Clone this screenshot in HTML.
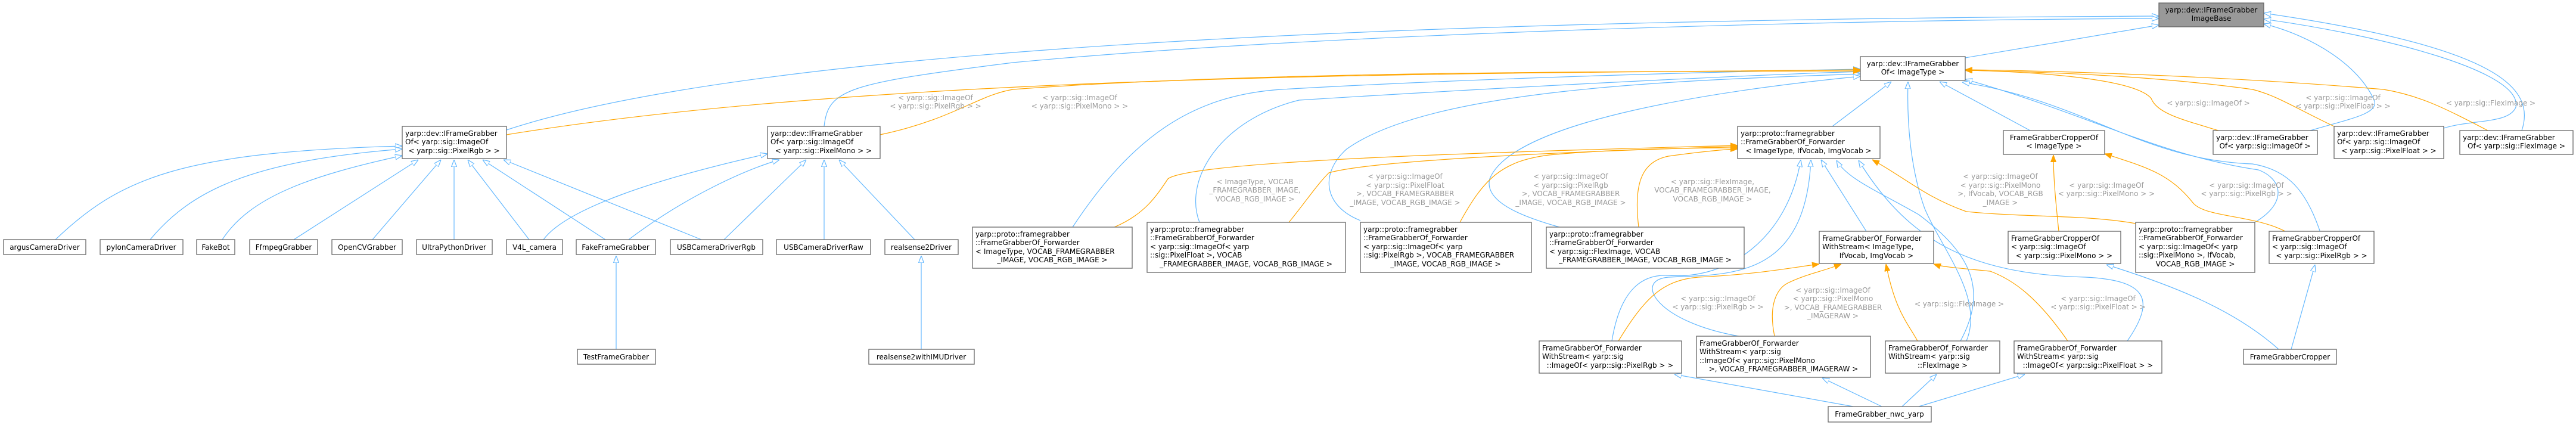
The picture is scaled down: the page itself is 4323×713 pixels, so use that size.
<!DOCTYPE html>
<html><head><meta charset="utf-8"><style>
html,body{margin:0;padding:0;background:#fff;width:4323px;height:713px;overflow:hidden}
svg{display:block}
text{font-family:"DejaVu Sans","Liberation Sans",sans-serif;font-size:12px;fill:#000}
.l text{fill:#9a9a9a}
.b{fill:none;stroke:#63b8ff;stroke-width:1.2}
.o{fill:none;stroke:#ffa500;stroke-width:1.2}
rect{fill:#fff;stroke:#666;stroke-width:1.3}
</style></head><body>
<svg width="4323" height="713" viewBox="0 0 4323 713" xmlns="http://www.w3.org/2000/svg">
<defs>
<marker id="mb" viewBox="0 0 12 10" refX="12" refY="5" markerWidth="12" markerHeight="10" markerUnits="userSpaceOnUse" orient="auto"><path d="M0,0.5 L12,5 L0,9.5 z" fill="#fff" stroke="#63b8ff" stroke-width="1.2"/></marker>
<marker id="mo" viewBox="0 0 12 10" refX="12" refY="5" markerWidth="12" markerHeight="10" markerUnits="userSpaceOnUse" orient="auto"><path d="M0,0.5 L12,5 L0,9.5 z" fill="#ffa500" stroke="#ffa500"/></marker>
</defs>

<!-- blue edges -->
<g class="b" marker-end="url(#mb)">
<path d="M850,218 C1300,70 2500,32 3623,27"/>
<path d="M1383,212 C1390,150 1420,140 1700,105 C2200,58 3000,34 3623,31"/>
<path d="M3298,97 C3450,72 3540,56 3623,42"/>
<path d="M3877,219 C3940,200 3990,192 3985,170 C3960,110 3880,60 3799,40"/>
<path d="M4101,215 C4150,200 4210,208 4222,180 C4235,120 4000,60 3799,32"/>
<path d="M4232,219 C4255,150 4200,80 3799,22"/>
<path d="M1800,381 C1900,230 2000,160 2150,150 C2500,130 2900,120 3122,116"/>
<path d="M2013,373 C1985,300 2050,200 2180,168 C2500,148 2900,127 3122,120"/>
<path d="M2283,370 C2220,345 2215,290 2260,250 C2400,150 2800,135 3122,124"/>
<path d="M2617,381 C2560,365 2490,340 2500,300 C2540,200 2900,150 3122,128"/>
<path d="M3075,212 L3174,137"/>
<path d="M3300,572 C3330,500 3260,420 3230,350 C3205,280 3200,200 3202,137"/>
<path d="M3407,219 L3255,137"/>
<path d="M3784,373 C3840,340 3830,300 3790,285 C3620,260 3500,190 3298,133"/>
<path d="M3893,387 C3870,320 3840,285 3780,275 C3592,268 3500,170 3293,138"/>
<path d="M2705,572 C2720,480 2760,460 2800,462 C2900,470 3000,400 3022,268"/>
<path d="M2918,564 C2780,540 2740,470 2800,465 C2900,460 3030,470 3039,268"/>
<path d="M3132,388 L3056,268"/>
<path d="M3290,572 C3340,480 3300,420 3220,360 C3150,320 3100,300 3082,269"/>
<path d="M3570,572 C3620,500 3600,470 3500,465 C3300,460 3200,400 3119,269"/>
<path d="M3110,682 L2810,628"/>
<path d="M3158,682 L3058,634"/>
<path d="M3192,682 L3250,628"/>
<path d="M3220,682 L3398,628"/>
<path d="M3824,586 C3750,520 3650,480 3535,444"/>
<path d="M3845,586 L3885,444"/>
<path d="M1034,586 L1034,429"/>
<path d="M1546,586 L1546,429"/>
<path d="M93,402 C200,300 300,255 675,245"/>
<path d="M252,402 C320,320 420,270 675,250"/>
<path d="M373,402 C420,330 520,295 675,261"/>
<path d="M493,402 L702,268"/>
<path d="M625,402 L740,268"/>
<path d="M762,402 L762,268"/>
<path d="M888,402 L785,268"/>
<path d="M1016,402 L810,268"/>
<path d="M1177,402 L845,268"/>
<path d="M912,402 C950,350 1100,300 1288,258"/>
<path d="M1055,402 C1150,330 1250,285 1308,268"/>
<path d="M1215,402 L1353,268"/>
<path d="M1383,402 L1383,268"/>
<path d="M1535,402 L1408,268"/>
</g>

<!-- orange edges -->
<g class="o" marker-end="url(#mo)">
<path d="M850,226 C1500,120 2500,124 3122,117"/>
<path d="M1477,226 C1600,200 1640,160 1700,150 C2100,120 2700,120 3122,119"/>
<path d="M3723,219 C3660,200 3620,190 3610,165 C3580,130 3400,120 3298,118"/>
<path d="M3917,212 C3850,180 3820,160 3780,150 C3600,125 3400,120 3298,118"/>
<path d="M4175,219 C4100,180 4060,160 4000,150 C3700,125 3400,118 3298,117"/>
<path d="M1870,381 C1920,360 1940,330 1960,300 C2000,270 2500,255 2916,244"/>
<path d="M2163,373 C2190,340 2210,310 2230,290 C2300,270 2600,255 2916,246"/>
<path d="M2450,373 C2490,300 2520,270 2600,260 C2700,250 2850,248 2916,248"/>
<path d="M2750,381 C2740,300 2760,270 2800,262 C2850,255 2900,250 2916,250"/>
<path d="M3584,375 C3500,360 3400,365 3300,355 C3230,330 3200,300 3142,268"/>
<path d="M2716,572 C2760,500 2790,470 2850,465 C2950,460 3000,450 3053,443"/>
<path d="M2978,564 C2965,500 2990,480 3000,475 C3030,460 3060,455 3090,443"/>
<path d="M3218,572 C3200,540 3180,520 3165,443"/>
<path d="M3470,572 C3420,500 3380,470 3340,455 C3290,450 3260,448 3245,443"/>
<path d="M3455,388 C3450,340 3446,300 3446,260"/>
<path d="M3835,388 C3780,360 3700,365 3680,340 C3640,290 3600,280 3532,258"/>
</g>

<!-- edge labels -->
<g class="l" text-anchor="middle">
<text x="1570" y="168">&lt; yarp::sig::ImageOf</text><text x="1570" y="182">&lt; yarp::sig::PixelRgb &gt; &gt;</text>
<text x="1812" y="168">&lt; yarp::sig::ImageOf</text><text x="1812" y="182">&lt; yarp::sig::PixelMono &gt; &gt;</text>
<text x="2106" y="309">&lt; ImageType, VOCAB</text><text x="2106" y="323">_FRAMEGRABBER_IMAGE,</text><text x="2106" y="338">VOCAB_RGB_IMAGE &gt;</text>
<text x="2358" y="300">&lt; yarp::sig::ImageOf</text><text x="2358" y="315">&lt; yarp::sig::PixelFloat</text><text x="2358" y="329">&gt;, VOCAB_FRAMEGRABBER</text><text x="2358" y="344">_IMAGE, VOCAB_RGB_IMAGE &gt;</text>
<text x="2636" y="300">&lt; yarp::sig::ImageOf</text><text x="2636" y="315">&lt; yarp::sig::PixelRgb</text><text x="2636" y="329">&gt;, VOCAB_FRAMEGRABBER</text><text x="2636" y="344">_IMAGE, VOCAB_RGB_IMAGE &gt;</text>
<text x="2874" y="309">&lt; yarp::sig::FlexImage,</text><text x="2874" y="323">VOCAB_FRAMEGRABBER_IMAGE,</text><text x="2874" y="338">VOCAB_RGB_IMAGE &gt;</text>
<text x="2883" y="505">&lt; yarp::sig::ImageOf</text><text x="2883" y="519">&lt; yarp::sig::PixelRgb &gt; &gt;</text>
<text x="3076" y="491">&lt; yarp::sig::ImageOf</text><text x="3076" y="505">&lt; yarp::sig::PixelMono</text><text x="3076" y="520">&gt;, VOCAB_FRAMEGRABBER</text><text x="3076" y="534">_IMAGERAW &gt;</text>
<text x="3288" y="514">&lt; yarp::sig::FlexImage &gt;</text>
<text x="3706" y="177">&lt; yarp::sig::ImageOf &gt;</text>
<text x="3932" y="168">&lt; yarp::sig::ImageOf</text><text x="3932" y="182">&lt; yarp::sig::PixelFloat &gt; &gt;</text>
<text x="4180" y="177">&lt; yarp::sig::FlexImage &gt;</text>
<text x="3357" y="300">&lt; yarp::sig::ImageOf</text><text x="3357" y="315">&lt; yarp::sig::PixelMono</text><text x="3357" y="329">&gt;, IfVocab, VOCAB_RGB</text><text x="3357" y="344">_IMAGE &gt;</text>
<text x="3535" y="315">&lt; yarp::sig::ImageOf</text><text x="3535" y="329">&lt; yarp::sig::PixelMono &gt; &gt;</text>
<text x="3770" y="315">&lt; yarp::sig::ImageOf</text><text x="3770" y="329">&lt; yarp::sig::PixelRgb &gt; &gt;</text>
<text x="3521" y="505">&lt; yarp::sig::ImageOf</text><text x="3521" y="519">&lt; yarp::sig::PixelFloat &gt; &gt;</text>
</g>

<!-- nodes -->
<rect x="3623" y="5" width="176" height="40" style="fill:#999"/>
<text x="3711" y="21" text-anchor="middle">yarp::dev::IFrameGrabber</text><text x="3711" y="35" text-anchor="middle">ImageBase</text>

<rect x="3122" y="95" width="176" height="40"/>
<text x="3210" y="111" text-anchor="middle">yarp::dev::IFrameGrabber</text><text x="3210" y="125" text-anchor="middle">Of&lt; ImageType &gt;</text>

<rect x="675" y="212" width="175" height="54"/>
<text x="680" y="228">yarp::dev::IFrameGrabber</text><text x="680" y="242">Of&lt; yarp::sig::ImageOf</text><text x="762" y="257" text-anchor="middle">&lt; yarp::sig::PixelRgb &gt; &gt;</text>

<rect x="1288" y="212" width="189" height="54"/>
<text x="1293" y="228">yarp::dev::IFrameGrabber</text><text x="1293" y="242">Of&lt; yarp::sig::ImageOf</text><text x="1382" y="257" text-anchor="middle">&lt; yarp::sig::PixelMono &gt; &gt;</text>

<rect x="2916" y="212" width="239" height="54"/>
<text x="2921" y="228">yarp::proto::framegrabber</text><text x="2921" y="242">::FrameGrabberOf_Forwarder</text><text x="3035" y="257" text-anchor="middle">&lt; ImageType, IfVocab, ImgVocab &gt;</text>

<rect x="3362" y="219" width="170" height="40"/>
<text x="3447" y="235" text-anchor="middle">FrameGrabberCropperOf</text><text x="3447" y="249" text-anchor="middle">&lt; ImageType &gt;</text>

<rect x="3714" y="219" width="175" height="40"/>
<text x="3719" y="235">yarp::dev::IFrameGrabber</text><text x="3801" y="249" text-anchor="middle">Of&lt; yarp::sig::ImageOf &gt;</text>

<rect x="3917" y="212" width="184" height="54"/>
<text x="3922" y="228">yarp::dev::IFrameGrabber</text><text x="3922" y="242">Of&lt; yarp::sig::ImageOf</text><text x="4009" y="257" text-anchor="middle">&lt; yarp::sig::PixelFloat &gt; &gt;</text>

<rect x="4128" y="219" width="190" height="40"/>
<text x="4133" y="235">yarp::dev::IFrameGrabber</text><text x="4223" y="249" text-anchor="middle">Of&lt; yarp::sig::FlexImage &gt;</text>

<g text-anchor="middle">
<rect x="6" y="402" width="138" height="25"/><text x="75" y="419">argusCameraDriver</text>
<rect x="168" y="402" width="139" height="25"/><text x="237" y="419">pylonCameraDriver</text>
<rect x="330" y="402" width="64" height="25"/><text x="362" y="419">FakeBot</text>
<rect x="419" y="402" width="114" height="25"/><text x="476" y="419">FfmpegGrabber</text>
<rect x="557" y="402" width="118" height="25"/><text x="616" y="419">OpenCVGrabber</text>
<rect x="699" y="402" width="127" height="25"/><text x="762" y="419">UltraPythonDriver</text>
<rect x="850" y="402" width="94" height="25"/><text x="897" y="419">V4L_camera</text>
<rect x="967" y="402" width="133" height="25"/><text x="1033" y="419">FakeFrameGrabber</text>
<rect x="1125" y="402" width="155" height="25"/><text x="1202" y="419">USBCameraDriverRgb</text>
<rect x="1303" y="402" width="158" height="25"/><text x="1382" y="419">USBCameraDriverRaw</text>
<rect x="1485" y="402" width="123" height="25"/><text x="1546" y="419">realsense2Driver</text>
<rect x="969" y="586" width="131" height="25"/><text x="1034" y="603">TestFrameGrabber</text>
<rect x="1458" y="586" width="177" height="25"/><text x="1546" y="603">realsense2withIMUDriver</text>
<rect x="3765" y="586" width="156" height="25"/><text x="3843" y="603">FrameGrabberCropper</text>
<rect x="3068" y="682" width="173" height="26"/><text x="3154" y="699">FrameGrabber_nwc_yarp</text>
</g>

<rect x="1632" y="381" width="268" height="69"/>
<text x="1637" y="397">yarp::proto::framegrabber</text><text x="1637" y="411">::FrameGrabberOf_Forwarder</text><text x="1637" y="426">&lt; ImageType, VOCAB_FRAMEGRABBER</text><text x="1766" y="440" text-anchor="middle">_IMAGE, VOCAB_RGB_IMAGE &gt;</text>

<rect x="1925" y="373" width="333" height="84"/>
<text x="1930" y="389">yarp::proto::framegrabber</text><text x="1930" y="403">::FrameGrabberOf_Forwarder</text><text x="1930" y="418">&lt; yarp::sig::ImageOf&lt; yarp</text><text x="1930" y="432">::sig::PixelFloat &gt;, VOCAB</text><text x="2091" y="447" text-anchor="middle">_FRAMEGRABBER_IMAGE, VOCAB_RGB_IMAGE &gt;</text>

<rect x="2283" y="373" width="287" height="84"/>
<text x="2288" y="389">yarp::proto::framegrabber</text><text x="2288" y="403">::FrameGrabberOf_Forwarder</text><text x="2288" y="418">&lt; yarp::sig::ImageOf&lt; yarp</text><text x="2288" y="432">::sig::PixelRgb &gt;, VOCAB_FRAMEGRABBER</text><text x="2426" y="447" text-anchor="middle">_IMAGE, VOCAB_RGB_IMAGE &gt;</text>

<rect x="2595" y="381" width="332" height="69"/>
<text x="2600" y="397">yarp::proto::framegrabber</text><text x="2600" y="411">::FrameGrabberOf_Forwarder</text><text x="2600" y="426">&lt; yarp::sig::FlexImage, VOCAB</text><text x="2761" y="440" text-anchor="middle">_FRAMEGRABBER_IMAGE, VOCAB_RGB_IMAGE &gt;</text>

<rect x="3053" y="388" width="192" height="54"/>
<text x="3058" y="404">FrameGrabberOf_Forwarder</text><text x="3058" y="418">WithStream&lt; ImageType,</text><text x="3149" y="433" text-anchor="middle">IfVocab, ImgVocab &gt;</text>

<rect x="3370" y="388" width="189" height="54"/>
<text x="3375" y="404">FrameGrabberCropperOf</text><text x="3375" y="418">&lt; yarp::sig::ImageOf</text><text x="3464" y="433" text-anchor="middle">&lt; yarp::sig::PixelMono &gt; &gt;</text>

<rect x="3584" y="373" width="200" height="84"/>
<text x="3589" y="389">yarp::proto::framegrabber</text><text x="3589" y="403">::FrameGrabberOf_Forwarder</text><text x="3589" y="418">&lt; yarp::sig::ImageOf&lt; yarp</text><text x="3589" y="432">::sig::PixelMono &gt;, IfVocab,</text><text x="3684" y="447" text-anchor="middle">VOCAB_RGB_IMAGE &gt;</text>

<rect x="3808" y="388" width="176" height="54"/>
<text x="3813" y="404">FrameGrabberCropperOf</text><text x="3813" y="418">&lt; yarp::sig::ImageOf</text><text x="3896" y="433" text-anchor="middle">&lt; yarp::sig::PixelRgb &gt; &gt;</text>

<rect x="2583" y="572" width="239" height="54"/>
<text x="2588" y="588">FrameGrabberOf_Forwarder</text><text x="2588" y="602">WithStream&lt; yarp::sig</text><text x="2702" y="617" text-anchor="middle">::ImageOf&lt; yarp::sig::PixelRgb &gt; &gt;</text>

<rect x="2847" y="564" width="292" height="69"/>
<text x="2852" y="580">FrameGrabberOf_Forwarder</text><text x="2852" y="594">WithStream&lt; yarp::sig</text><text x="2852" y="609">::ImageOf&lt; yarp::sig::PixelMono</text><text x="2993" y="623" text-anchor="middle">&gt;, VOCAB_FRAMEGRABBER_IMAGERAW &gt;</text>

<rect x="3164" y="572" width="192" height="54"/>
<text x="3169" y="588">FrameGrabberOf_Forwarder</text><text x="3169" y="602">WithStream&lt; yarp::sig</text><text x="3260" y="617" text-anchor="middle">::FlexImage &gt;</text>

<rect x="3380" y="572" width="248" height="54"/>
<text x="3385" y="588">FrameGrabberOf_Forwarder</text><text x="3385" y="602">WithStream&lt; yarp::sig</text><text x="3504" y="617" text-anchor="middle">::ImageOf&lt; yarp::sig::PixelFloat &gt; &gt;</text>
</svg>
</body></html>
